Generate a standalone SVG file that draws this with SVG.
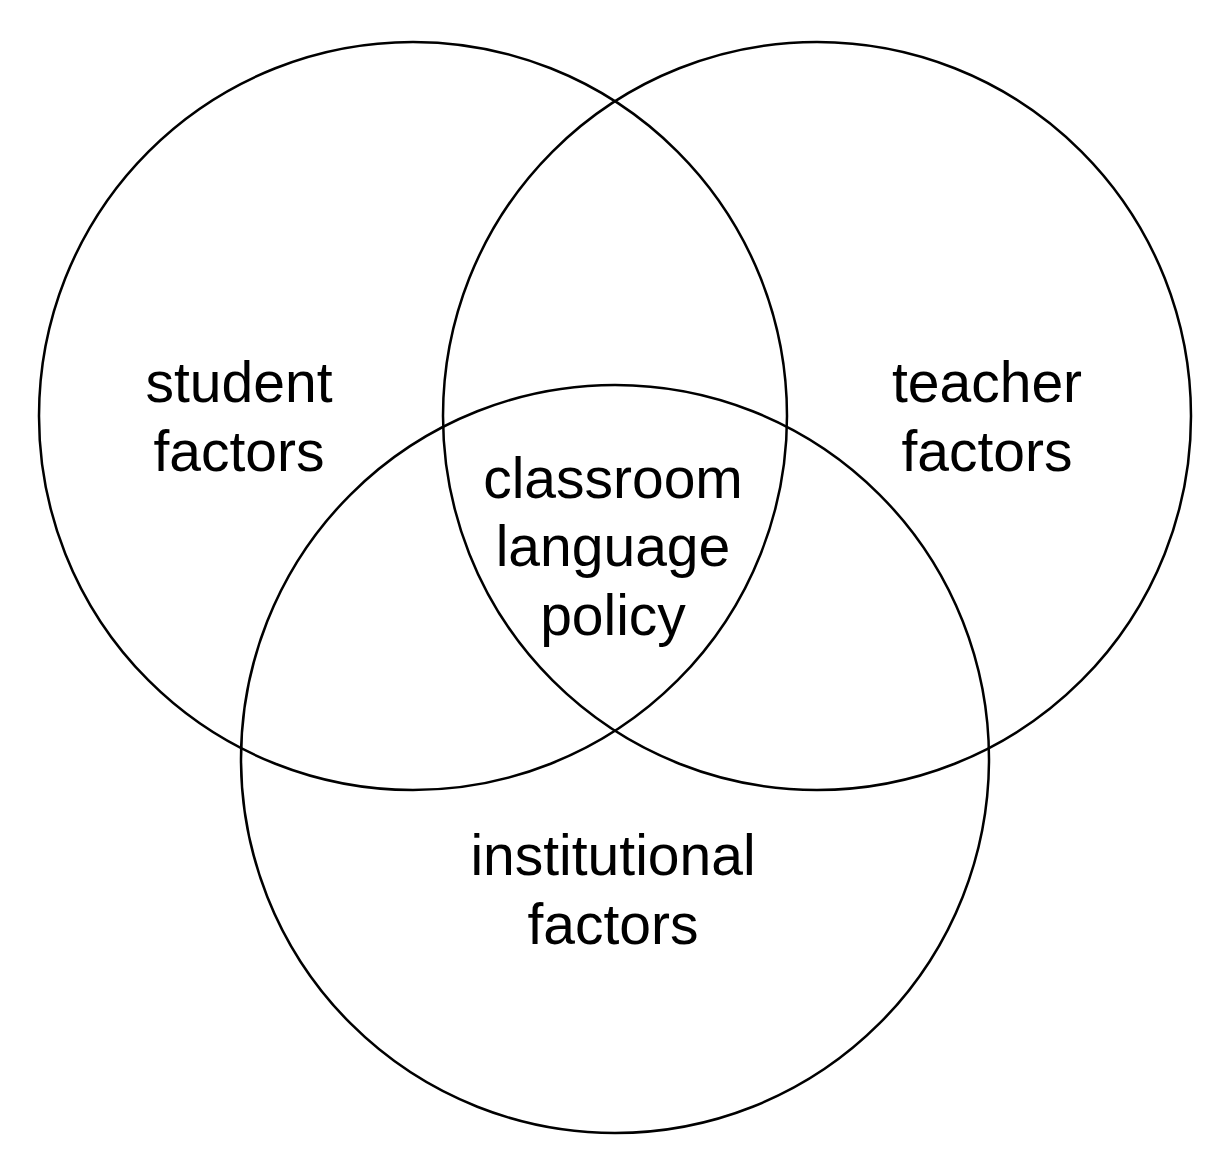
<svg xmlns="http://www.w3.org/2000/svg" width="1232" height="1150" viewBox="0 0 1232 1150">
<style>
circle{fill:none;stroke:#000;stroke-width:2.5}
text{font-family:"Liberation Sans",Arial,sans-serif;font-size:57px;fill:#000;text-anchor:middle}
</style>
<rect width="1232" height="1150" fill="#fff"/>
<g id="student"><circle cx="413" cy="416" r="374"/><text x="239" y="402">student</text><text x="239" y="471">factors</text></g>
<g id="teacher"><circle cx="817" cy="416" r="374"/><text x="987" y="402">teacher</text><text x="987" y="471">factors</text></g>
<g id="institutional"><circle cx="615" cy="759" r="374"/><text x="613" y="875">institutional</text><text x="613" y="944">factors</text></g>
<g id="center"><text x="613" y="498">classroom</text><text x="613" y="566">language</text><text x="613" y="635">policy</text></g>
<g id="connectors"/>
</svg>
